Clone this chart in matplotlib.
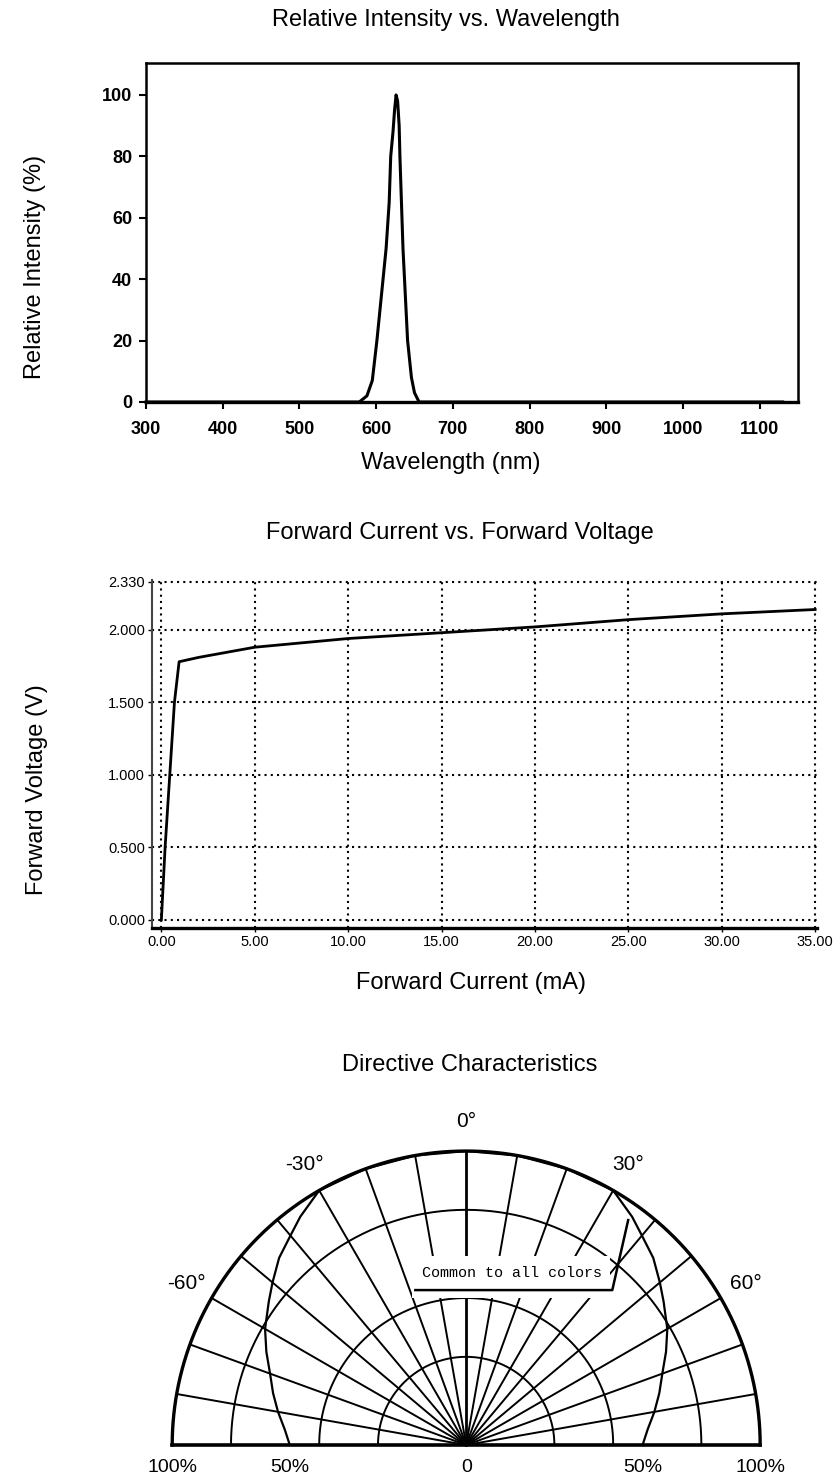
"""LED datasheet curves: spectrum, I-V curve and directive pattern."""
import matplotlib

matplotlib.use("Agg")
import matplotlib.pyplot as plt
from matplotlib.patches import Rectangle
import numpy as np

FONT = ["Liberation Sans Narrow", "Liberation Sans", "DejaVu Sans"]
plt.rcParams["font.family"] = FONT

# --- relative intensity vs wavelength ---
wavelength_nm = [300, 578, 588, 595, 601, 607, 613, 617, 619, 622, 624, 626,
                 628, 630, 631, 633, 635, 638, 641, 646, 650, 656, 1130]
intensity_pct = [0, 0, 2, 7, 20, 35, 50, 65, 80, 88, 95, 100,
                 98, 90, 80, 65, 50, 35, 20, 8, 3, 0, 0]
wl_ticks = [300, 400, 500, 600, 700, 800, 900, 1000, 1100]
int_ticks = [0, 20, 40, 60, 80, 100]

# --- forward voltage vs forward current ---
current_ma = [0, 0.2, 0.45, 0.7, 0.95, 2, 5, 10, 15, 20, 25, 30, 35]
voltage_v = [0, 0.5, 1.0, 1.5, 1.78, 1.81, 1.88, 1.94, 1.98, 2.02, 2.07, 2.11, 2.14]
current_ticks = [0, 5, 10, 15, 20, 25, 30, 35]
current_labels = ["0.00", "5.00", "10.00", "15.00", "20.00", "25.00", "30.00", "35.00"]
voltage_ticks = [0, 0.5, 1.0, 1.5, 2.0, 2.33]
voltage_labels = ["0.000", "0.500", "1.000", "1.500", "2.000", "2.330"]

# --- directive characteristics ---
pattern_deg = [-90, -85, -80, -75, -70, -65, -60, -54, -50, -45, -40, -36, -30,
               -20, -10, 0, 10, 20, 30, 36, 40, 45, 50, 54, 60, 65, 70, 75, 80, 85, 90]
pattern_rel = [0.60, 0.62, 0.65, 0.68, 0.71, 0.75, 0.79, 0.83, 0.86, 0.90, 0.93, 0.96, 1.0,
               1.0, 1.0, 1.0, 1.0, 1.0, 1.0, 0.96, 0.93, 0.90, 0.86, 0.83, 0.79, 0.75, 0.71,
               0.68, 0.65, 0.62, 0.60]
ring_levels = [0.3, 0.5, 0.8]
spoke_deg = [-80, -70, -60, -50, -40, -30, -20, -10, 0, 10, 20, 30, 40, 50, 60, 70, 80]
angle_label_deg = [-60, -30, 0, 30, 60]
angle_labels = ["-60°", "-30°", "0°", "30°", "60°"]
scale_pos = [-1.0, -0.6, 0.0, 0.6, 1.0]
scale_labels = ["100%", "50%", "0", "50%", "100%"]


def main():
    fig = plt.figure(figsize=(8.33, 14.79), dpi=100, facecolor="white")

    # ---------------- chart 1 ----------------
    ax1 = fig.add_axes([0.1753, 0.7282, 0.7827, 0.2292])
    ax1.plot(wavelength_nm, intensity_pct, color="black", lw=2.2, clip_on=False)
    ax1.set_xlim(300, 1150)
    ax1.set_ylim(0, 110.4)
    ax1.set_xticks(wl_ticks)
    ax1.set_yticks(int_ticks)
    ax1.tick_params(direction="out", length=5, width=1.5, labelsize=13)
    ax1.tick_params(axis="x", pad=9)
    ax1.tick_params(axis="y", pad=5)
    for lab in ax1.get_xticklabels() + ax1.get_yticklabels():
        lab.set_fontweight("bold")
    for sp in ax1.spines.values():
        sp.set_linewidth(1.8)
    ax1.spines["bottom"].set_linewidth(2.4)
    fig.text(0.535, 0.9865, "Relative Intensity vs. Wavelength", ha="center", va="center", fontsize=17)
    fig.text(0.541, 0.687, "Wavelength (nm)", ha="center", va="center", fontsize=17)
    fig.text(0.042, 0.8195, "Relative Intensity (%)", ha="center", va="center",
             rotation=90, fontsize=17)

    # ---------------- chart 2 ----------------
    ax2 = fig.add_axes([0.1825, 0.3726, 0.7983, 0.2354])
    ax2.plot(current_ma, voltage_v, color="black", lw=2.0, zorder=3)
    ax2.set_xlim(-0.5, 35.1)
    ax2.set_ylim(-0.055, 2.345)
    ax2.set_xticks(current_ticks, current_labels)
    ax2.set_yticks(voltage_ticks, voltage_labels)
    ax2.grid(True, color="black", linestyle=(0, (1, 2)), lw=1.5)
    ax2.tick_params(direction="out", length=3, width=1.0, labelsize=10.5, pad=2)
    ax2.spines["top"].set_visible(False)
    ax2.spines["right"].set_visible(False)
    ax2.spines["left"].set_linewidth(1.5)
    ax2.spines["left"].set_color("#444444")
    ax2.spines["bottom"].set_linewidth(2.4)
    fig.text(0.552, 0.6396, "Forward Current vs. Forward Voltage", ha="center", va="center", fontsize=17)
    fig.text(0.565, 0.3354, "Forward Current (mA)", ha="center", va="center", fontsize=17)
    fig.text(0.044, 0.466, "Forward Voltage (V)", ha="center", va="center",
             rotation=90, fontsize=17)

    # ---------------- chart 3 ----------------
    ax3 = fig.add_axes([0.1361, 0.0031, 0.8471, 0.2584])
    ax3.set_xlim(-1.2, 1.2)
    ax3.set_ylim(-0.1, 1.2)
    ax3.set_aspect("equal")
    ax3.axis("off")

    half = np.deg2rad(np.linspace(-90, 90, 361))
    for r in ring_levels:
        ax3.plot(r * np.sin(half), r * np.cos(half), color="black", lw=1.4, zorder=2)
    ax3.plot(np.sin(half), np.cos(half), color="black", lw=2.4, zorder=4)
    ax3.plot([-1, 1], [0, 0], color="black", lw=2.6, zorder=4)
    for d in spoke_deg:
        t = np.deg2rad(d)
        ax3.plot([0, np.sin(t)], [0, np.cos(t)], color="black",
                 lw=2.0 if d == 0 else 1.4, zorder=1)

    pt = np.deg2rad(pattern_deg)
    pr = np.array(pattern_rel)
    ax3.plot(pr * np.sin(pt), pr * np.cos(pt), color="black", lw=1.6, zorder=3)

    # label box covering the spokes
    ax3.add_patch(Rectangle((-0.185, 0.5), 0.675, 0.143, facecolor="white",
                            edgecolor="none", zorder=5))
    ax3.text(0.157, 0.585, "Common to all colors", ha="center", va="center",
             fontsize=10.8, family=["Liberation Mono", "DejaVu Sans Mono"], zorder=6)
    ax3.plot([-0.173, 0.497, 0.551], [0.527, 0.527, 0.765], color="black", lw=1.8, zorder=6)

    for d, lab in zip(angle_label_deg, angle_labels):
        t = np.deg2rad(d)
        ax3.text(1.1 * np.sin(t), 1.1 * np.cos(t), lab, ha="center", va="center", fontsize=15)
    for x, lab in zip(scale_pos, scale_labels):
        ax3.text(x, -0.075, lab, ha="center", va="center", fontsize=14)

    fig.text(0.564, 0.280, "Directive Characteristics", ha="center", va="center", fontsize=17)

    fig.savefig("out.png", dpi=100, facecolor="white")
    plt.close(fig)


if __name__ == "__main__":
    main()
